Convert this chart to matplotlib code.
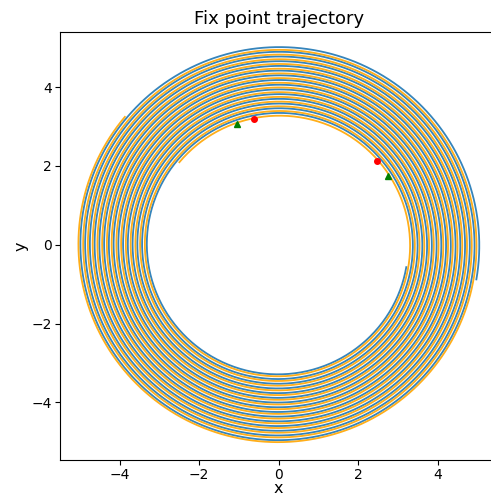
import numpy as np
import matplotlib
matplotlib.use("Agg")
import matplotlib.pyplot as plt

# Spiral trajectory parameters
r_outer = 5.05          # starting radius of both trajectories
r_inner = 3.26          # final radius
n_turns = 15            # number of revolutions
blue_start_deg = -10.0  # start angle of the blue trajectory
orange_start_deg = 140.0  # start angle of the orange trajectory

# Marker points
red_x = [-0.62, 2.48]
red_y = [3.20, 2.12]
green_x = [-1.05, 2.75]
green_y = [3.07, 1.75]

xlim = (-5.5, 5.5)
ylim = (-5.46, 5.40)
xticks = [-4, -2, 0, 2, 4]
yticks = [-4, -2, 0, 2, 4]


def spiral(start_deg):
    t = np.linspace(0, 1, 6000)
    ang = np.deg2rad(start_deg) + t * n_turns * 2 * np.pi
    r = r_outer + (r_inner - r_outer) * t
    return r * np.cos(ang), r * np.sin(ang)


fig = plt.figure(figsize=(4.91, 4.98), dpi=100)
ax = fig.add_axes([60 / 491, 38 / 498, 437.3 / 491, 428 / 498])

bx, by = spiral(blue_start_deg)
ox, oy = spiral(orange_start_deg)
ax.plot(bx, by, color="#1f77b4", lw=1.3, alpha=0.9)
ax.plot(ox, oy, color="orange", lw=1.3, alpha=0.9)
ax.plot(red_x, red_y, "o", color="red", ms=4)
ax.plot(green_x, green_y, "^", color="green", ms=4)

ax.set_xlim(*xlim)
ax.set_ylim(*ylim)
ax.set_xticks(xticks)
ax.set_yticks(yticks)
ax.tick_params(labelsize=10, pad=2.5)
ax.set_xlabel("x", fontsize=11.5, labelpad=-1)
ax.set_ylabel("y", fontsize=11.5, labelpad=2)
ax.set_title("Fix point trajectory", fontsize=13)

fig.savefig("out.png", dpi=100)
